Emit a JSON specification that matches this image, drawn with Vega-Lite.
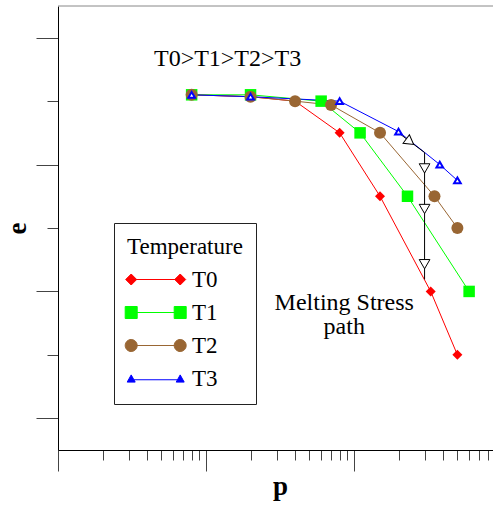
{
  "$schema": "https://vega.github.io/schema/vega-lite/v6.json",
  "width": 435,
  "height": 444,
  "autosize": {"type": "none"},
  "padding": {"left": 58, "top": 6, "right": 0, "bottom": 56},
  "config": {
    "view": {"stroke": null},
    "font": "Liberation Serif",
    "axis": {"grid": false, "labels": false}
  },
  "datasets": {
    "series": [
      {"s": "T0", "p": 8, "e": 5.1}, {"s": "T0", "p": 20, "e": 5.07}, {"s": "T0", "p": 40, "e": 5.0}, {"s": "T0", "p": 80, "e": 4.5}, {"s": "T0", "p": 150, "e": 3.5}, {"s": "T0", "p": 330, "e": 2.0}, {"s": "T0", "p": 500, "e": 1.0},
      {"s": "T1", "p": 8, "e": 5.1}, {"s": "T1", "p": 20, "e": 5.1}, {"s": "T1", "p": 60, "e": 5.0}, {"s": "T1", "p": 110, "e": 4.5}, {"s": "T1", "p": 230, "e": 3.5}, {"s": "T1", "p": 600, "e": 2.0},
      {"s": "T2", "p": 8, "e": 5.1}, {"s": "T2", "p": 20, "e": 5.07}, {"s": "T2", "p": 40, "e": 5.0}, {"s": "T2", "p": 70, "e": 4.94}, {"s": "T2", "p": 150, "e": 4.5}, {"s": "T2", "p": 350, "e": 3.5}, {"s": "T2", "p": 500, "e": 3.0},
      {"s": "T3", "p": 8, "e": 5.1}, {"s": "T3", "p": 20, "e": 5.07}, {"s": "T3", "p": 80, "e": 5.0}, {"s": "T3", "p": 200, "e": 4.52}, {"s": "T3", "p": 380, "e": 4.0}, {"s": "T3", "p": 500, "e": 3.75}
    ],
    "path": [
      {"k": 1, "p": 200, "e": 4.5},
      {"k": 2, "p": 300, "e": 4.19},
      {"k": 3, "p": 300, "e": 2.19}
    ],
    "arrowsDown": [
      {"p": 300, "e": 3.94},
      {"p": 300, "e": 3.3},
      {"p": 300, "e": 2.43}
    ],
    "arrowsSlant": [
      {"p": 239, "e": 4.36}
    ],
    "notes": [
      {"p": 14, "e": 5.55, "t": "T0>T1>T2>T3"},
      {"p": 86, "e": 1.7, "t": "Melting Stress\npath"}
    ]
  },
  "layer": [
    {
      "data": {"values": [{}]},
      "mark": {"type": "rule", "color": "#888888", "strokeWidth": 1},
      "encoding": {"y": {"datum": 6.5, "type": "quantitative"}}
    },
    {
      "data": {"name": "series"},
      "mark": {"type": "line", "strokeWidth": 1},
      "encoding": {
        "x": {
          "field": "p", "type": "quantitative",
          "scale": {"type": "log", "domain": [1, 870], "nice": false},
          "axis": {
            "title": "p",
            "values": [1, 2, 3, 4, 5, 6, 7, 8, 9, 10, 20, 30, 40, 50, 60, 70, 80, 90, 100, 200, 300, 400, 500, 600, 700, 800],
            "labels": false,
            "tickSize": {"condition": {"test": "abs(log(datum.value)/LN10 - round(log(datum.value)/LN10)) < 0.001", "value": 21}, "value": 10},
            "tickColor": "#444444",
            "domainColor": "#000000",
            "titleFont": "Liberation Serif",
            "titleFontSize": 27,
            "titleFontWeight": "bold",
            "titleColor": "#000000",
            "titleX": 222,
            "titleY": 44,
            "titleBaseline": "alphabetic",
            "titleAlign": "center"
          }
        },
        "y": {
          "field": "e", "type": "quantitative",
          "scale": {"domain": [-0.5, 6.5], "nice": false, "zero": false},
          "axis": {
            "title": "e",
            "values": [0, 1, 2, 3, 4, 5, 6],
            "labels": false,
            "tickSize": {"condition": {"test": "datum.value % 2 === 0", "value": 22}, "value": 11},
            "tickColor": "#444444",
            "domainColor": "#000000",
            "titleFont": "Liberation Serif",
            "titleFontSize": 27,
            "titleFontWeight": "bold",
            "titleColor": "#000000",
            "titleAngle": 270,
            "titleX": -33,
            "titleY": 222,
            "titleBaseline": "alphabetic",
            "titleAlign": "center"
          }
        },
        "color": {
          "field": "s", "type": "nominal",
          "scale": {"domain": ["T0", "T1", "T2", "T3"], "range": ["#ff0000", "#00ff00", "#996633", "#0000ff"]},
          "legend": {
            "title": "Temperature",
            "orient": "none",
            "legendX": 56,
            "legendY": 217,
            "direction": "vertical",
            "strokeColor": "#222222",
            "fillColor": "#ffffff",
            "padding": 13,
            "cornerRadius": 0,
            "titleFont": "Liberation Serif",
            "titleFontSize": 23,
            "titleFontWeight": "normal",
            "titleColor": "#000000",
            "titlePadding": 9,
            "labelFont": "Liberation Serif",
            "labelFontSize": 23,
            "labelColor": "#000000",
            "labelOffset": 42,
            "rowPadding": 9,
            "symbolSize": 100,
            "symbolStrokeWidth": 1,
            "encode": {
              "symbols": {
                "update": {
                  "shape": {"signal": "datum.value === 'T0' ? 'M-2.56,0L-1.46,-1.1L-0.36,0L-1.46,1.1Z M7.24,0L8.34,-1.1L9.44,0L8.34,1.1Z M-1.46,0L8.34,0' : datum.value === 'T1' ? 'M-2.66,-1.2L-0.26,-1.2L-0.26,1.2L-2.66,1.2Z M7.14,-1.2L9.54,-1.2L9.54,1.2L7.14,1.2Z M-1.46,0L8.34,0' : datum.value === 'T2' ? 'M-2.66,0A1.2,1.2,0,1,0,-0.26,0A1.2,1.2,0,1,0,-2.66,0Z M7.14,0A1.2,1.2,0,1,0,9.54,0A1.2,1.2,0,1,0,7.14,0Z M-1.46,0L8.34,0' : 'M-1.46,-0.72L-2.26,0.72L-0.66,0.72Z M8.34,-0.72L7.54,0.72L9.14,0.72Z M-0.92,0.25L7.8,0.25'"},
                  "fill": {"signal": "datum.value === 'T0' ? '#ff0000' : datum.value === 'T1' ? '#00ff00' : datum.value === 'T2' ? '#996633' : '#ffffff'"},
                  "stroke": {"signal": "datum.value === 'T0' ? '#ff0000' : datum.value === 'T1' ? '#00ff00' : datum.value === 'T2' ? '#996633' : '#0000ff'"},
                  "strokeWidth": {"value": 1},
                  "size": {"value": 100},
                  "opacity": {"value": 1}
                }
              }
            }
          }
        }
      }
    },
    {
      "data": {"name": "path"},
      "mark": {"type": "line", "color": "#000000", "strokeWidth": 1},
      "encoding": {
        "x": {"field": "p", "type": "quantitative"},
        "y": {"field": "e", "type": "quantitative"},
        "order": {"field": "k", "type": "quantitative"}
      }
    },
    {
      "data": {"name": "arrowsDown"},
      "mark": {"type": "point", "shape": "triangle-down", "size": 114, "filled": false, "fill": "#ffffff", "stroke": "#000000", "strokeWidth": 1, "opacity": 1},
      "encoding": {
        "x": {"field": "p", "type": "quantitative"},
        "y": {"field": "e", "type": "quantitative"}
      }
    },
    {
      "data": {"name": "arrowsSlant"},
      "mark": {"type": "point", "shape": "triangle-right", "angle": 36.5, "size": 114, "filled": false, "fill": "#ffffff", "stroke": "#000000", "strokeWidth": 1, "opacity": 1},
      "encoding": {
        "x": {"field": "p", "type": "quantitative"},
        "y": {"field": "e", "type": "quantitative"}
      }
    },
    {
      "data": {"name": "series"},
      "transform": [{"filter": "datum.s === 'T0'"}],
      "mark": {"type": "point", "shape": "diamond", "filled": true, "size": 100, "opacity": 1},
      "encoding": {
        "x": {"field": "p", "type": "quantitative"},
        "y": {"field": "e", "type": "quantitative"},
        "color": {"field": "s", "type": "nominal"}
      }
    },
    {
      "data": {"name": "series"},
      "transform": [{"filter": "datum.s === 'T1'"}],
      "mark": {"type": "point", "shape": "square", "filled": true, "size": 132, "opacity": 1},
      "encoding": {
        "x": {"field": "p", "type": "quantitative"},
        "y": {"field": "e", "type": "quantitative"},
        "color": {"field": "s", "type": "nominal"}
      }
    },
    {
      "data": {"name": "series"},
      "transform": [{"filter": "datum.s === 'T2'"}],
      "mark": {"type": "point", "shape": "circle", "filled": true, "size": 144, "opacity": 1},
      "encoding": {
        "x": {"field": "p", "type": "quantitative"},
        "y": {"field": "e", "type": "quantitative"},
        "color": {"field": "s", "type": "nominal"}
      }
    },
    {
      "data": {"name": "series"},
      "transform": [{"filter": "datum.s === 'T3'"}],
      "mark": {"type": "point", "shape": "triangle-up", "filled": false, "fill": "#ffffff", "size": 45, "strokeWidth": 2, "opacity": 1},
      "encoding": {
        "x": {"field": "p", "type": "quantitative"},
        "y": {"field": "e", "type": "quantitative"},
        "color": {"field": "s", "type": "nominal"}
      }
    },
    {
      "data": {"name": "notes"},
      "mark": {"type": "text", "font": "Liberation Serif", "fontSize": 24, "color": "#000000", "align": "center", "baseline": "alphabetic", "lineBreak": "\n", "lineHeight": 24},
      "encoding": {
        "x": {"field": "p", "type": "quantitative"},
        "y": {"field": "e", "type": "quantitative"},
        "text": {"field": "t", "type": "nominal"}
      }
    }
  ]
}
